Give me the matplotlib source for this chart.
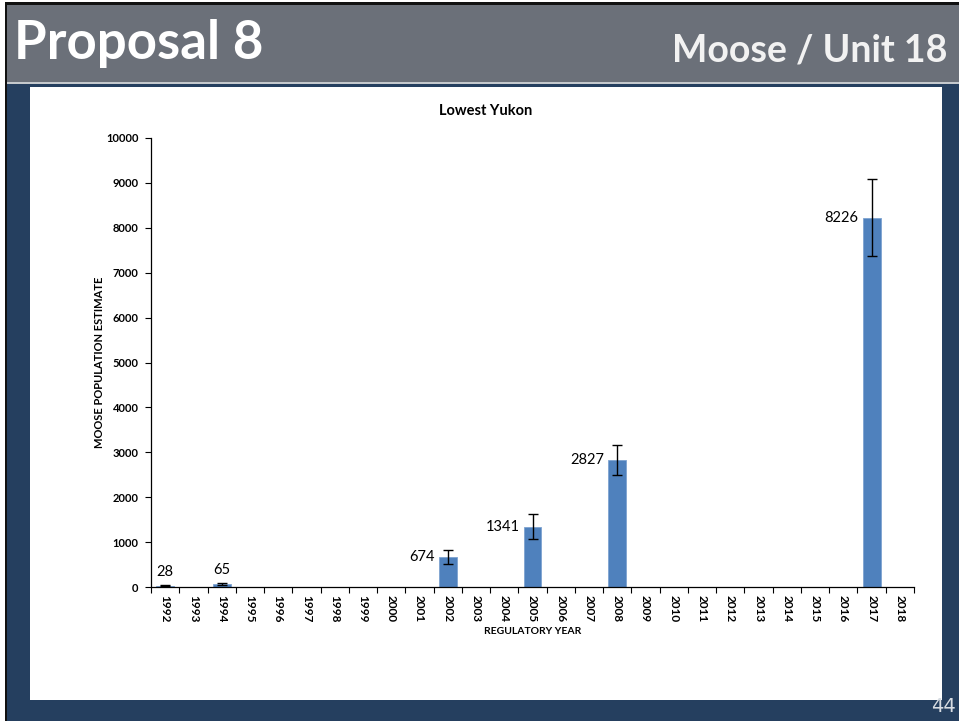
import matplotlib
matplotlib.use("Agg")
import matplotlib.pyplot as plt
from matplotlib.patches import Rectangle
from matplotlib.ticker import FixedLocator, NullFormatter

years = [str(y) for y in range(1992, 2019)]
est_years = ["1992", "1994", "2002", "2005", "2008", "2017"]
estimates = [28, 65, 674, 1341, 2827, 8226]
errors = [12, 18, 151, 282, 342, 858]
title = "Lowest Yukon"
header_left = "Proposal 8"
header_right = "Moose / Unit 18"
page_number = "44"

W, H = 959, 721
fig = plt.figure(figsize=(W / 100, H / 100), dpi=100)
fig.patch.set_facecolor("white")


def px_rect(x0, y0, x1, y1, color, z=0):
    fig.add_artist(Rectangle((x0 / W, 1 - y1 / H), (x1 - x0) / W, (y1 - y0) / H,
                             transform=fig.transFigure, facecolor=color,
                             edgecolor="none", zorder=z))


navy = "#253f5f"
px_rect(5, 2, W, H, "#111111", -10)
px_rect(7, 5, W, H, navy, -9)
px_rect(7, 5, W, 82, "#6b7079", -8)
px_rect(7, 82, W, 84, "#c5c9cd", -8)
px_rect(30, 87, 942, 700, "white", -7)

fig.text(14 / W, 1 - 44 / H, header_left, color="white", fontsize=38,
         fontweight="bold", family="Lato", ha="left", va="center")
fig.text(948 / W, 1 - 50 / H, header_right, color="#f2f2f2", fontsize=27,
         fontweight="bold", family="Lato", ha="right", va="center")
fig.text(956 / W, 1 - 706 / H, page_number, color="#d8dde3", fontsize=14,
         family="DejaVu Sans", ha="right", va="center")

ax = fig.add_axes([151 / W, 1 - 587 / H, (914 - 151) / W, (587 - 138) / H])
ax.set_facecolor("none")
idx = {y: i for i, y in enumerate(years)}
xs = [idx[y] for y in est_years]
ax.bar(xs, estimates, width=0.63, color="#4f81bd", edgecolor="#7ea3d0",
       linewidth=0.6, zorder=2)
ax.errorbar(xs, estimates, yerr=errors, fmt="none", ecolor="black",
            elinewidth=1.0, capsize=3.5, capthick=1.0, zorder=3)

for x, v in zip(xs, estimates):
    if v < 200:
        ax.annotate(str(v), (x, v), xytext=(0, 5), textcoords="offset points",
                    ha="center", va="bottom", fontsize=10.5, family="Lato")
    else:
        ax.annotate(str(v), (x - 0.315, v), xytext=(-3, 0),
                    textcoords="offset points", ha="right", va="center",
                    fontsize=10.5, family="Lato")

ax.set_xlim(-0.5, len(years) - 0.5)
ax.set_ylim(0, 10000)
ax.set_yticks(range(0, 10001, 1000))
ax.set_yticklabels([str(v) for v in range(0, 10001, 1000)], fontsize=8,
                   fontweight="bold", family="Lato")
ax.xaxis.set_major_locator(FixedLocator([i - 0.5 for i in range(len(years) + 1)]))
ax.xaxis.set_major_formatter(NullFormatter())
ax.xaxis.set_minor_locator(FixedLocator(list(range(len(years)))))
ax.set_xticklabels(years, minor=True, rotation=-90, fontsize=8.5,
                   fontweight="bold", family="Lato")
ax.tick_params(axis="x", which="major", direction="out", length=4, width=0.8)
ax.tick_params(axis="x", which="minor", length=0, pad=6)
ax.tick_params(axis="y", direction="out", length=4, width=0.8, pad=5)
for s in ["top", "right"]:
    ax.spines[s].set_visible(False)
ax.spines["left"].set_linewidth(0.9)
ax.spines["bottom"].set_linewidth(0.9)

ax.set_xlabel("REGULATORY YEAR", fontsize=7.5, fontweight="bold", family="Lato",
              labelpad=3)
ax.set_ylabel("MOOSE POPULATION ESTIMATE", fontsize=8, fontweight="bold",
              family="Lato", labelpad=1)
fig.text(486 / W, 1 - 111 / H, title, fontsize=10.5, fontweight="bold",
         family="Lato", ha="center", va="center")

fig.savefig("out.png", dpi=100)
